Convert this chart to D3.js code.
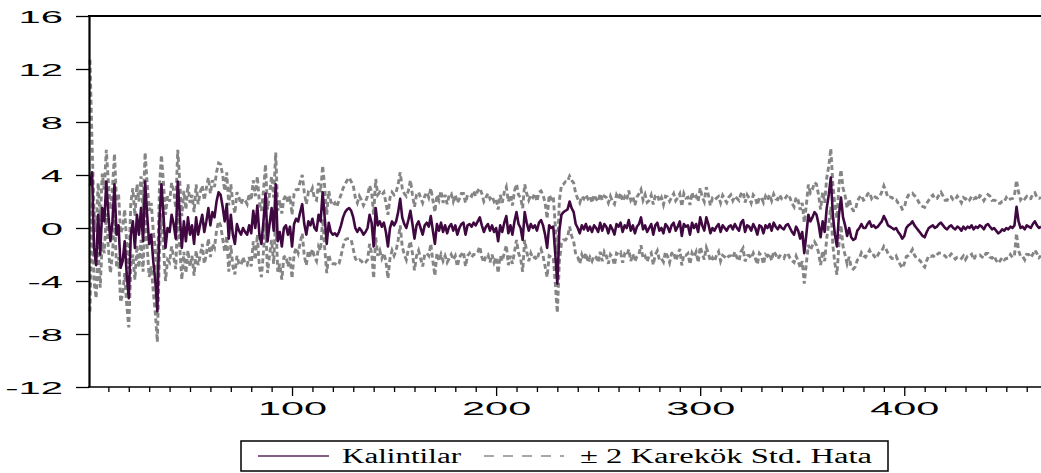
<!DOCTYPE html>
<html><head><meta charset="utf-8">
<script src="https://cdn.jsdelivr.net/npm/d3@7"></script>
<style>body{margin:0;background:#fff}svg{display:block}</style>
</head><body>
<svg id="c" width="1041" height="473"></svg>
<script>
// Recursive residuals (Kalintilar), observations 1..467
const resid = [
3.2,4.2,-1.5,-2.8,1.0,-2.0,1.5,0.5,3.5,1.0,
-1.0,0.5,3.3,-0.5,0.2,-3.0,-2.5,-1.0,-3.5,-5.3,
-0.5,0.5,-1.5,1.0,-0.5,1.5,-1.0,3.5,1.0,-1.2,
-0.5,-2.5,-4.0,-6.3,0.5,3.3,1.0,-1.5,0.0,-0.3,
1.0,0.3,-0.8,3.5,1.0,-1.5,0.5,-1.0,0.8,-0.5,
0.2,-1.2,0.8,-0.5,0.3,1.0,-0.3,0.5,1.5,0.2,
1.2,0.8,2.0,2.7,2.5,1.6,0.5,1.8,-0.8,1.0,
-0.5,-1.2,0.3,-0.2,-0.5,0.0,-0.3,-0.5,0.2,-0.4,
1.3,0.0,1.7,-0.5,-1.2,0.5,2.6,-1.0,0.3,1.5,
-0.2,3.3,-1.0,-0.3,-1.4,0.0,0.2,-0.5,0.1,-1.4,
0.3,0.7,0.5,1.2,1.8,0.3,-0.5,0.5,0.2,0.7,
0.0,-0.2,1.0,0.5,2.7,0.8,-1.2,0.4,-0.3,-0.5,
-0.4,-0.6,-0.3,0.2,0.8,1.2,1.4,1.5,1.3,0.8,
0.0,-0.3,0.0,-0.2,-0.5,-0.3,0.0,1.0,0.4,-1.4,
1.5,0.2,0.5,0.1,0.4,-0.3,-1.4,0.0,0.5,0.2,
0.5,1.2,2.2,0.8,0.3,0.0,0.6,1.3,0.3,-0.8,
0.2,0.5,0.0,-0.5,0.2,0.4,0.1,0.9,-0.2,-1.2,
0.3,-0.2,0.4,-0.3,0.2,-0.4,0.1,0.3,-0.2,0.2,
-0.5,0.0,0.3,0.4,-0.5,0.2,0.3,0.1,0.4,0.2,
0.5,0.8,0.2,-0.3,0.1,0.3,-0.2,0.2,-0.3,0.0,
-1.0,0.2,-0.3,0.4,0.9,-0.4,0.2,-0.5,0.5,1.2,
0.3,0.0,-0.9,1.2,0.4,-0.2,0.3,0.0,0.2,-0.2,
0.4,0.6,0.2,-0.5,-1.5,0.2,0.0,0.1,-2.0,-4.2,
-0.2,1.0,1.2,1.3,1.4,2.0,1.5,1.2,0.3,0.0,
-0.4,0.2,-0.1,0.3,-0.2,0.1,-0.3,0.2,0.0,-0.3,
0.4,-0.2,0.3,0.1,-0.4,0.2,-0.1,-0.5,0.3,0.1,
0.4,-0.3,0.2,0.0,0.6,-0.2,0.2,-0.4,0.1,0.3,
0.8,-0.1,0.2,-0.3,0.0,0.3,-0.5,0.2,0.4,-0.2,
0.0,-0.4,0.3,0.1,-0.3,0.2,0.4,-0.2,0.1,0.5,
-0.6,0.3,0.1,0.2,-0.5,0.4,0.0,0.3,-0.3,0.8,
0.2,-0.2,0.8,0.3,-0.4,0.0,-0.2,0.1,0.3,-0.3,
0.2,0.0,-0.2,0.1,0.2,-0.1,0.3,0.0,-0.2,0.4,
0.6,-0.3,0.2,0.1,-0.2,0.3,0.0,-0.5,0.2,0.1,
-0.4,0.2,0.0,0.3,-0.2,0.4,0.1,-0.1,0.2,0.0,
-0.1,0.2,0.3,0.0,-0.3,-0.5,0.1,-0.2,-0.8,-0.3,
-1.9,-0.5,1.0,0.5,0.8,1.2,1.0,0.3,-0.7,0.5,
-0.3,1.5,2.5,3.8,1.0,-0.5,-1.4,1.0,2.3,0.8,
0.2,-0.6,0.0,-0.7,-0.9,-0.8,-0.2,0.0,0.3,0.0,
0.0,0.3,0.5,0.1,0.2,0.0,0.1,0.3,0.5,0.9,
0.6,0.2,0.1,0.0,-0.1,0.0,-0.3,-0.5,-0.8,-0.6,
0.0,0.2,0.3,0.5,0.2,0.0,-0.2,-0.4,-0.6,-0.7,
-0.3,0.0,0.1,0.2,0.0,0.1,0.3,0.4,0.2,0.0,
-0.1,0.1,0.2,0.0,-0.1,0.1,0.0,-0.2,0.1,-0.1,
0.1,0.0,0.2,-0.1,0.1,0.0,0.2,0.1,-0.1,0.2,
0.3,0.1,-0.1,0.0,-0.2,-0.4,-0.3,-0.1,-0.2,0.0,
-0.1,0.1,0.0,0.2,1.6,0.5,0.0,0.1,-0.1,0.2,
0.1,0.0,0.3,0.5,0.2,0.0,0.1
];
// Standard error of each recursive residual (bands = resid ± 2·se)
const se = [
4.75,1.10,1.30,1.25,1.20,1.25,1.30,1.20,1.20,1.25,
1.20,1.25,1.15,1.25,1.20,1.30,1.25,1.20,1.15,1.10,
1.20,1.25,1.20,1.15,1.25,1.20,1.15,1.10,1.20,1.25,
1.20,1.15,1.20,1.15,1.25,1.10,1.20,1.25,1.20,1.15,
1.20,1.25,1.15,1.20,1.25,1.20,1.15,1.20,1.25,1.20,
1.15,1.20,1.25,1.15,1.20,1.10,1.20,1.25,1.15,1.20,
1.20,1.15,1.10,1.10,1.15,1.20,1.15,1.20,1.25,1.15,
1.20,1.15,1.20,1.25,1.15,1.10,1.20,1.15,1.20,1.25,
1.15,1.20,1.10,1.20,1.25,1.15,1.10,1.20,1.15,1.20,
1.25,1.20,1.15,1.20,1.25,1.10,1.15,1.20,1.15,1.20,
1.15,1.10,1.20,1.15,1.10,1.20,1.15,1.10,1.20,1.15,
1.10,1.15,1.20,1.10,1.00,1.15,1.10,1.20,1.15,1.10,
1.15,1.10,1.20,1.15,1.10,1.05,1.10,1.15,1.10,1.20,
1.15,1.10,1.20,1.15,1.10,1.15,1.20,1.10,1.15,1.20,
1.10,1.15,1.10,1.20,1.15,1.10,1.20,1.15,1.10,1.15,
1.10,1.05,1.00,1.10,1.15,1.20,1.10,1.15,1.10,1.20,
1.15,1.10,1.15,1.20,1.10,1.15,1.10,1.05,1.15,1.20,
1.10,1.15,1.20,1.10,1.15,1.10,1.20,1.15,1.10,1.15,
1.20,1.10,1.15,1.10,1.20,1.15,1.10,1.15,1.20,1.10,
1.15,1.10,1.20,1.15,1.10,1.15,1.20,1.10,1.15,1.10,
1.20,1.15,1.10,1.15,1.10,1.20,1.15,1.10,1.15,1.05,
1.10,1.15,1.20,1.05,1.10,1.15,1.10,1.15,1.20,1.10,
1.15,1.10,1.15,1.20,1.10,1.15,1.10,1.15,1.10,1.10,
1.15,1.10,1.05,1.10,1.05,0.95,1.05,1.10,1.15,1.10,
1.15,1.10,1.15,1.10,1.20,1.15,1.10,1.15,1.10,1.15,
1.10,1.15,1.05,1.10,1.15,1.10,1.05,1.15,1.10,1.05,
1.12,1.16,1.08,1.05,1.11,1.15,1.09,1.06,1.12,1.14,
1.05,1.10,1.16,1.12,1.04,1.09,1.14,1.11,1.06,1.10,
1.15,1.08,1.05,1.12,1.16,1.06,1.10,1.13,1.09,1.04,
1.11,1.15,1.08,1.06,1.12,1.14,1.09,1.05,1.15,1.11,
1.06,1.09,1.14,1.10,1.05,1.12,1.16,1.08,1.04,1.10,
1.13,1.09,1.06,1.11,1.15,1.08,1.05,1.12,1.14,1.09,
1.06,1.11,1.15,1.08,1.04,1.10,1.14,1.12,1.05,1.09,
1.16,1.10,1.06,1.11,1.13,1.08,1.05,1.12,1.15,1.09,
1.10,1.06,1.12,1.14,1.08,1.05,1.11,1.15,1.09,1.10,
1.15,1.10,1.14,1.08,1.06,1.12,1.15,1.09,1.05,1.11,
1.10,1.14,1.08,1.10,1.15,1.09,1.06,1.12,1.05,1.10,
1.12,1.05,1.09,1.14,1.10,1.06,1.11,1.15,1.08,1.05,
1.10,1.13,1.09,1.06,1.12,1.15,1.08,1.04,1.11,1.14,
1.09,1.05,1.12,1.15,1.10,1.06,1.09,1.13,1.11,1.05,
1.08,1.14,1.10,1.06,1.12,1.15,1.09,1.05,1.11,1.13,
1.08,1.05,1.12,1.14,1.10,1.06,1.09,1.15,1.11,1.05,
1.10,1.13,1.08,1.06,1.12,1.15,1.09,1.05,1.10,1.14,
1.11,1.06,1.09,1.15,1.10,1.05,1.12,1.14,1.08,1.06,
1.11,1.15,1.09,1.05,1.12,1.13,1.08,1.06,1.10,1.15,
1.09,1.05,1.11,1.14,1.00,1.10,1.06,1.12,1.15,1.09,
1.05,1.11,1.14,1.08,1.06,1.12,1.10
];
const xTicks = [100, 200, 300, 400];
const xMinorTicks = d3.range(10, 467, 10);
const yTicks = [-12, -8, -4, 0, 4, 8, 12, 16];
const legendLabels = ["Kalintilar", "\u00B1 2 Karek\u00F6k Std. Hata"];

const n = Math.min(resid.length, se.length);
const rows = d3.range(n).map(i => ({t: i + 1, r: resid[i], up: resid[i] + 2 * se[i], lo: resid[i] - 2 * se[i]}));

const svg = d3.select("#c");
const x = d3.scaleLinear().domain([1, 467]).range([90, 1041]);
const y = d3.scaleLinear().domain([-12, 16]).range([387, 16]);

const mk = key => d3.line().x(d => x(d.t)).y(d => y(d[key]));

const plot = svg.append("g");
["up", "lo"].forEach(k => {
  plot.append("path").attr("d", mk(k)(rows))
    .attr("fill", "none").attr("stroke", "#858585")
    .attr("stroke-width", 2.9).attr("stroke-dasharray", "5,3");
});
plot.append("path").attr("d", mk("r")(rows))
  .attr("fill", "none").attr("stroke", "#3f0840")
  .attr("stroke-width", 2.6).attr("stroke-linejoin", "round");

// top frame line
svg.append("line").attr("x1", 88).attr("x2", 1041).attr("y1", 16).attr("y2", 16)
  .attr("stroke", "#000").attr("stroke-width", 2);

// x axis
const gx = svg.append("g").attr("transform", "translate(0,387)")
  .call(d3.axisBottom(x).tickValues(xMinorTicks).tickSize(5).tickSizeOuter(0)
    .tickFormat(d => xTicks.includes(d) ? String(d) : ""));
gx.select(".domain").attr("d", "M88,0H1041").attr("stroke-width", 1.6);
gx.selectAll(".tick line").attr("stroke-width", 1.3)
  .attr("y2", d => xTicks.includes(d) ? 9 : 5);
gx.selectAll(".tick text")
  .attr("font-family", "'Liberation Sans', Arial, sans-serif")
  .attr("font-size", 18).attr("fill", "#000")
  .attr("y", 28).attr("dy", 0)
  .attr("transform", "scale(2.3,1)");

// y axis
const sx = 2.35;
const gy = svg.append("g").attr("transform", "translate(89,0)")
  .call(d3.axisLeft(y).tickValues(yTicks).tickSize(13).tickSizeOuter(0)
    .tickFormat(d => String(d)));
gy.select(".domain").attr("stroke-width", 2.2);
gy.selectAll(".tick line").attr("stroke-width", 1.3);
gy.selectAll(".tick text")
  .attr("font-family", "'Liberation Sans', Arial, sans-serif")
  .attr("font-size", 17).attr("fill", "#000")
  .attr("x", -26 / sx).attr("dy", "0.36em")
  .attr("transform", `scale(${sx},1)`);

// legend
const lg = svg.append("g");
lg.append("rect").attr("x", 241).attr("y", 441).attr("width", 647).attr("height", 30)
  .attr("fill", "#fff").attr("stroke", "#000").attr("stroke-width", 1.5);
lg.append("line").attr("x1", 258).attr("x2", 329).attr("y1", 456).attr("y2", 456)
  .attr("stroke", "#5a2a5c").attr("stroke-width", 1.6);
lg.append("line").attr("x1", 484).attr("x2", 564).attr("y1", 456).attr("y2", 456)
  .attr("stroke", "#8a8a8a").attr("stroke-width", 1.6).attr("stroke-dasharray", "10,9");
lg.append("text").attr("x", 342).attr("y", 463).text(legendLabels[0])
  .attr("textLength", 119).attr("lengthAdjust", "spacingAndGlyphs");
lg.append("text").attr("x", 580).attr("y", 463).text(legendLabels[1])
  .attr("textLength", 292).attr("lengthAdjust", "spacingAndGlyphs");
lg.selectAll("text").attr("font-family", "'Liberation Serif', 'Times New Roman', serif")
  .attr("font-size", 20).attr("fill", "#000");
</script>
</body></html>
